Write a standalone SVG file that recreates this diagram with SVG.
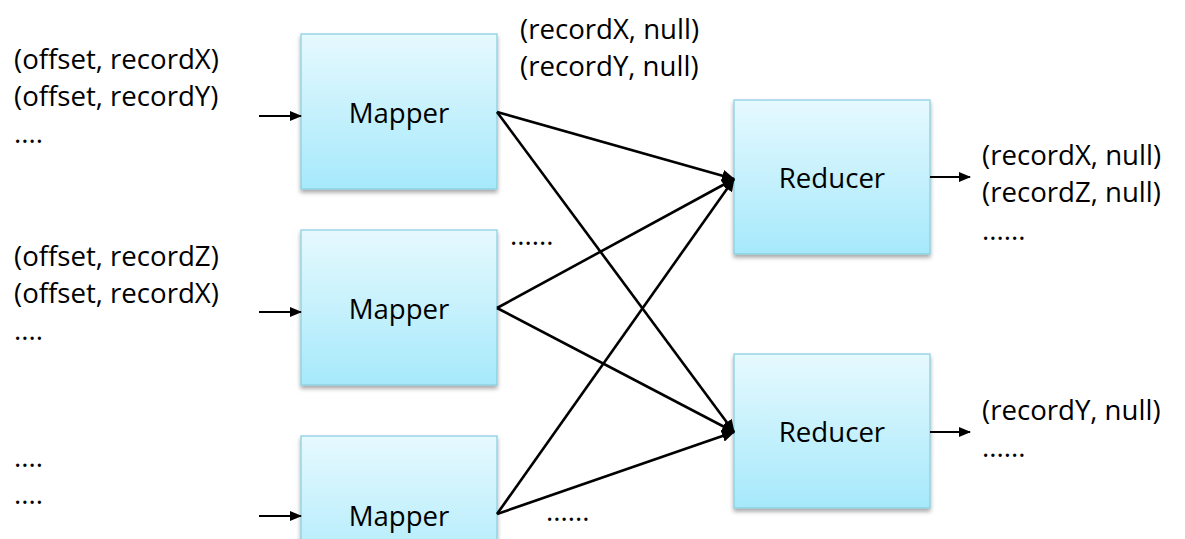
<svg xmlns="http://www.w3.org/2000/svg" width="1185" height="539" viewBox="0 0 1185 539">
<style>
.t{font-family:"Open Sans","Noto Sans",sans-serif;font-size:27.6px;fill:#000}
.c{text-anchor:middle}
.box{fill:url(#g);stroke:#86cde0;stroke-width:1.2}
.ln{stroke:#000;stroke-width:2.6;fill:none}
.ar{stroke:#000;stroke-width:2;fill:none}
</style>
<defs>
<linearGradient id="g" x1="0" y1="0" x2="0" y2="1">
<stop offset="0" stop-color="#e6f9fe"/>
<stop offset="1" stop-color="#a6e9fb"/>
</linearGradient>
<filter id="sh" x="-10%" y="-10%" width="120%" height="130%">
<feDropShadow dx="0" dy="3" stdDeviation="2" flood-color="#000" flood-opacity="0.35"/>
</filter>
<marker id="ah" markerWidth="14" markerHeight="12" refX="12" refY="6" orient="auto" markerUnits="userSpaceOnUse">
<path d="M0,0 L13,6 L0,12 z" fill="#000"/>
</marker>
<marker id="as" markerWidth="12" markerHeight="10" refX="11" refY="5" orient="auto" markerUnits="userSpaceOnUse">
<path d="M0,0 L12,5 L0,10 z" fill="#000"/>
</marker>
</defs>
<rect width="1185" height="539" fill="#fff"/>

<g id="mapper1">
<rect class="box" x="301" y="34" width="196" height="155" filter="url(#sh)"/>
<text class="t c" x="399" y="123">Mapper</text>
</g>
<g id="mapper2">
<rect class="box" x="301" y="230" width="196" height="155" filter="url(#sh)"/>
<text class="t c" x="399" y="319">Mapper</text>
</g>
<g id="mapper3">
<rect class="box" x="301" y="436" width="196" height="155" filter="url(#sh)"/>
<text class="t c" x="399" y="526">Mapper</text>
</g>
<g id="reducer1">
<rect class="box" x="734" y="100" width="196" height="154" filter="url(#sh)"/>
<text class="t c" x="832" y="188">Reducer</text>
</g>
<g id="reducer2">
<rect class="box" x="734" y="354" width="196" height="154" filter="url(#sh)"/>
<text class="t c" x="832" y="442">Reducer</text>
</g>

<g id="connectors">
<line class="ar" x1="259" y1="116" x2="301" y2="116" marker-end="url(#as)"/>
<line class="ar" x1="259" y1="312" x2="301" y2="312" marker-end="url(#as)"/>
<line class="ar" x1="259" y1="516" x2="301" y2="516" marker-end="url(#as)"/>
<line class="ln" x1="497" y1="112" x2="734" y2="179" marker-end="url(#ah)"/>
<line class="ln" x1="497" y1="112" x2="734" y2="432" marker-end="url(#ah)"/>
<line class="ln" x1="497" y1="308" x2="734" y2="179" marker-end="url(#ah)"/>
<line class="ln" x1="497" y1="308" x2="734" y2="432" marker-end="url(#ah)"/>
<line class="ln" x1="497" y1="514" x2="734" y2="179" marker-end="url(#ah)"/>
<line class="ln" x1="497" y1="514" x2="734" y2="432" marker-end="url(#ah)"/>
<line class="ar" x1="930" y1="177" x2="970" y2="177" marker-end="url(#as)"/>
<line class="ar" x1="930" y1="432" x2="970" y2="432" marker-end="url(#as)"/>
</g>

<g id="labels">
<text class="t" x="14" y="69">(offset, recordX)</text>
<text class="t" x="14" y="106">(offset, recordY)</text>
<text class="t" x="14" y="143">....</text>
<text class="t" x="14" y="266">(offset, recordZ)</text>
<text class="t" x="14" y="303">(offset, recordX)</text>
<text class="t" x="14" y="340">....</text>
<text class="t" x="14" y="467">....</text>
<text class="t" x="14" y="504">....</text>
<text class="t" x="520" y="39">(recordX, null)</text>
<text class="t" x="520" y="76">(recordY, null)</text>
<text class="t" x="510" y="245">......</text>
<text class="t" x="546" y="521">......</text>
<text class="t" x="982" y="165">(recordX, null)</text>
<text class="t" x="982" y="202">(recordZ, null)</text>
<text class="t" x="982" y="240">......</text>
<text class="t" x="982" y="420">(recordY, null)</text>
<text class="t" x="982" y="457">......</text>
</g>
</svg>
